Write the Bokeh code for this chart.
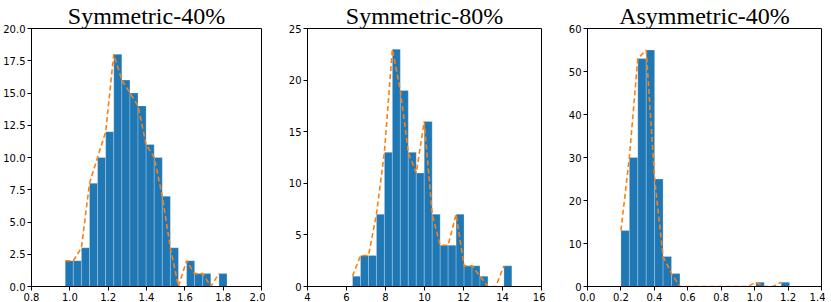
import numpy as np
from bokeh.plotting import figure
from bokeh.layouts import row
from bokeh.models import Range1d, FixedTicker, PrintfTickFormatter
from bokeh.embed import file_html
from bokeh.resources import INLINE

# ---- data ----
titles = ["Symmetric-40%", "Symmetric-80%", "Asymmetric-40%"]

sym40_lo, sym40_hi = 0.976, 1.820
sym40_counts = [2, 2, 3, 8, 10, 12, 18, 16, 15, 14, 11, 10, 7, 3, 0, 2, 1, 1, 0, 1]

sym80_lo, sym80_hi = 6.31, 14.48
sym80_counts = [1, 3, 3, 7, 13, 23, 19, 13, 11, 16, 7, 4, 4, 7, 2, 2, 1, 0, 0, 2]

asym40_lo, asym40_hi = 0.200, 1.209
asym40_counts = [13, 30, 53, 55, 25, 7, 3, 0, 0, 0, 0, 0, 0, 0, 0, 0, 1, 0, 0, 1]

sym40_xticks = [0.8, 1.0, 1.2, 1.4, 1.6, 1.8, 2.0]
sym40_yticks = [0.0, 2.5, 5.0, 7.5, 10.0, 12.5, 15.0, 17.5, 20.0]
sym80_xticks = [4, 6, 8, 10, 12, 14, 16]
sym80_yticks = [0, 5, 10, 15, 20, 25]
asym40_xticks = [0.0, 0.2, 0.4, 0.6, 0.8, 1.0, 1.2, 1.4]
asym40_yticks = [0, 10, 20, 30, 40, 50, 60]

BLUE = "#1f77b4"
ORANGE = "#ff7f0e"


def panel(title, lo, hi, counts, xticks, yticks, xfmt, yfmt,
          fwidth, border_left, border_right):
    counts = np.array(counts, dtype=float)
    edges = np.linspace(lo, hi, len(counts) + 1)
    p = figure(frame_width=fwidth, frame_height=258, output_backend="svg",
               toolbar_location=None, tools="",
               x_range=Range1d(xticks[0], xticks[-1]),
               y_range=Range1d(yticks[0], yticks[-1]),
               min_border_left=border_left, min_border_right=border_right,
               min_border_top=0, min_border_bottom=0)
    p.title.text = title
    p.title.align = "center"
    p.title.text_font = "Liberation Serif"
    p.title.text_font_size = "24px"
    p.title.text_font_style = "normal"
    p.title.text_color = "black"
    p.title.standoff = 0
    p.title.offset = 0

    p.quad(left=edges[:-1], right=edges[1:], bottom=0, top=counts,
           fill_color=BLUE, line_color="white", line_alpha=0.3, line_width=0.8)
    p.line(edges[:-1], counts, line_color=ORANGE, line_width=1.6,
           line_dash="5 3")

    p.xgrid.visible = False
    p.ygrid.visible = False
    p.outline_line_color = "black"
    p.outline_line_width = 1
    p.background_fill_color = "white"
    p.border_fill_color = "white"

    for ax, ticks, fmt in ((p.xaxis[0], xticks, xfmt), (p.yaxis[0], yticks, yfmt)):
        ax.ticker = FixedTicker(ticks=ticks)
        ax.formatter = PrintfTickFormatter(format=fmt)
        ax.axis_line_color = "black"
        ax.axis_line_width = 1
        ax.major_tick_line_color = "black"
        ax.major_tick_out = 4
        ax.major_tick_in = 0
        ax.minor_tick_line_color = None
        ax.major_label_text_font = "DejaVu Sans"
        ax.major_label_text_font_size = "10px"
        ax.major_label_text_color = "black"
        ax.major_label_standoff = 2
    return p


p1 = panel(titles[0], sym40_lo, sym40_hi, sym40_counts, sym40_xticks,
           sym40_yticks, "%.1f", "%.1f", 230, 30, 4)
p2 = panel(titles[1], sym80_lo, sym80_hi, sym80_counts, sym80_xticks,
           sym80_yticks, "%d", "%d", 234, 42, 4)
p3 = panel(titles[2], asym40_lo, asym40_hi, asym40_counts, asym40_xticks,
           asym40_yticks, "%.1f", "%d", 234, 42, 4)

layout = row(p1, p2, p3, spacing=0)
open("out.html", "w").write(file_html(layout, INLINE))
